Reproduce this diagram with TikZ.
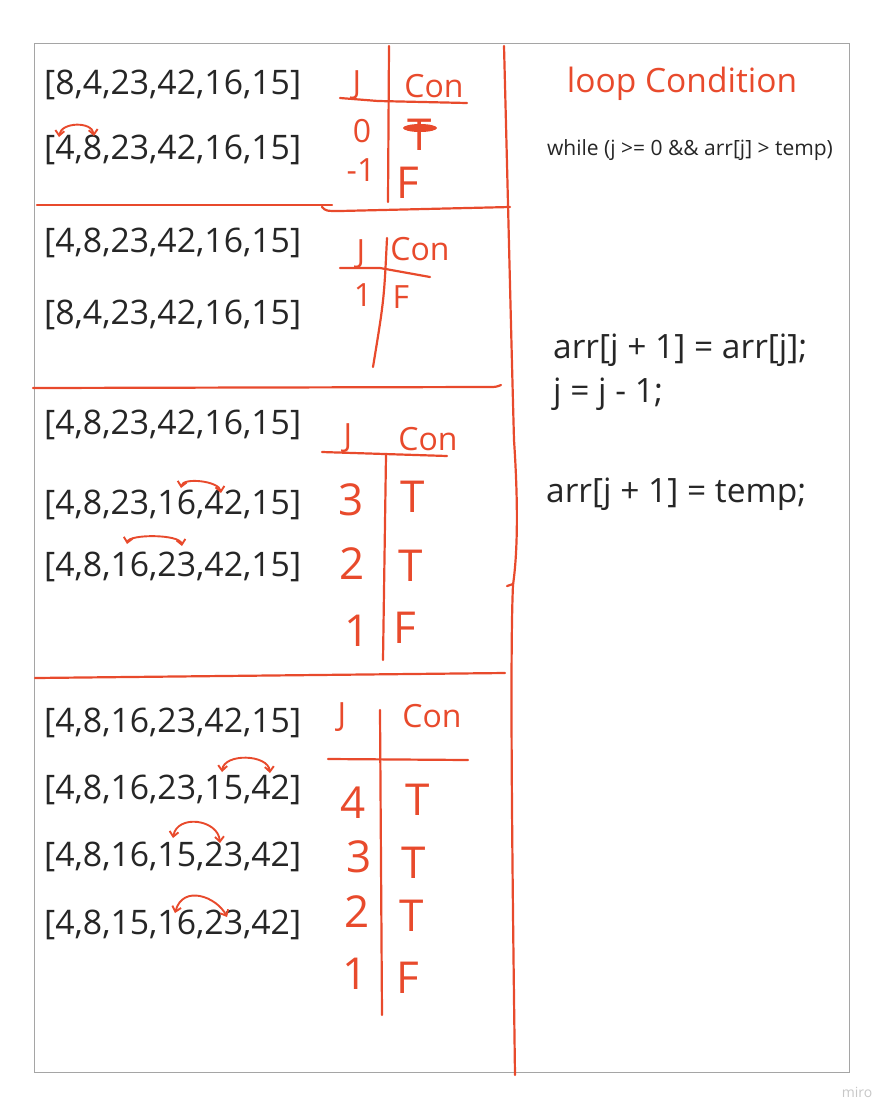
\documentclass[tikz,border=0pt]{standalone}
\usepackage{fontspec}
\setmainfont{Open Sans}
\usetikzlibrary{arrows,arrows.meta,calc,positioning}
\definecolor{ink}{RGB}{232,74,44}
\definecolor{frameg}{RGB}{165,165,165}

\begin{document}
\begin{tikzpicture}[x=1pt,y=-1pt]
\tikzstyle{arr}=[anchor=west, inner sep=0pt, text=black!85, font=\fontsize{33.8}{36}\selectfont]
\tikzstyle{code}=[arr, font=\fontsize{33.5}{36}\selectfont]
\tikzstyle{hand}=[inner sep=0pt, text=ink, font=\fontsize{44}{44}\selectfont]
\tikzstyle{handsm}=[hand, font=\fontsize{32}{32}\selectfont]
\tikzstyle{pen}=[draw=ink, line width=2.2pt, line cap=round, line join=round]
\tikzstyle{swap}=[pen, line width=1.9pt, {Straight Barb[length=5pt,width=9pt]}-{Straight Barb[length=5pt,width=9pt]}]

  \useasboundingbox (0,0) rectangle (894,1117);
  \draw[frameg, line width=1pt] (34,43) rectangle (849,1072);

  % arrays
  \node[arr] (a11) at (44,85)  {[8,4,23,42,16,15]};
  \node[arr] (a12) at (44,150) {[4,8,23,42,16,15]};

  \node[arr] (a21) at (44,243) {[4,8,23,42,16,15]};
  \node[arr] (a22) at (44,315) {[8,4,23,42,16,15]};

  \node[arr] (a31) at (44,425) {[4,8,23,42,16,15]};
  \node[arr] (a32) at (44,505) {[4,8,23,16,42,15]};
  \node[arr] (a33) at (44,567) {[4,8,16,23,42,15]};

  \node[arr] (a41) at (44,723) {[4,8,16,23,42,15]};
  \node[arr] (a42) at (44,790) {[4,8,16,23,15,42]};
  \node[arr] (a43) at (44,857) {[4,8,16,15,23,42]};
  \node[arr] (a44) at (44,925) {[4,8,15,16,23,42]};

  % right column
  \node[inner sep=0pt, text=ink, font=\fontsize{33.5}{36}\selectfont] (title) at (682,84) {loop Condition};
  \node[inner sep=0pt, text=black!85, font=\fontsize{21}{23}\selectfont] (cond) at (690,150) {while (j >= 0 \&\& arr[j] > temp)};
  \node[code] (shift) at (553,350) {arr[j + 1] = arr[j];};
  \node[code] (dec)   at (553,394) {j = j - 1;};
  \node[code] (ins)   at (546,494) {arr[j + 1] = temp;};
  \node[inner sep=0pt, text=black!22, font=\fontsize{14}{16}\selectfont] (miro) at (857,1092) {miro};

  % separators
  \draw[pen] (504,46) .. controls (508,200) and (511,330) .. (514,440)
             .. controls (518,500) and (518,550) .. (513,585)
             .. controls (510,650) and (512,850) .. (515,1075);
  \draw[pen] (507,586) -- (513,584);
  \draw[pen] (37,205) -- (332,205);
  \draw[pen] (322,207) .. controls (326,211) .. (340,211) -- (510,207);
  \draw[pen] (33,388) -- (488,387) .. controls (496,387) .. (501,385);
  \draw[pen] (35,678) -- (505,673);

  % table 1
  \draw[pen] (340,98) -- (378,101) -- (467,103);
  \draw[pen] (389,46) -- (388,202);
  \node[handsm] (j1)   at (357,85)  {J};
  \node[handsm] (con1) at (434,86)  {Con};
  \node[handsm] (j1a)  at (362,131) {0};
  \node[hand]   (c1a)  at (420,135) {T};
  \fill[ink] (420,128) ellipse (17 and 4);
  \node[handsm] (j1b)  at (361,170) {-1};
  \node[hand]   (c1b)  at (408,183) {F};

  % table 2
  \draw[pen] (340,268) -- (380,268) -- (430,277);
  \draw[pen] (387,238) .. controls (384,300) .. (373,367);
  \node[handsm] (j2)   at (361,254) {J};
  \node[handsm] (con2) at (420,249) {Con};
  \node[handsm] (j2a)  at (363,295) {1};
  \node[handsm] (c2a)  at (401,297) {F};

  % table 3
  \draw[pen] (322,452) -- (447,456);
  \draw[pen] (386,455) -- (383,660);
  \node[handsm] (j3)   at (348,438) {J};
  \node[handsm] (con3) at (428,439) {Con};
  \node[hand]   (j3a)  at (351,500) {3};
  \node[hand]   (c3a)  at (413,497) {T};
  \node[hand]   (j3b)  at (352,564) {2};
  \node[hand]   (c3b)  at (411,566) {T};
  \node[hand]   (j3c)  at (357,631) {1};
  \node[hand]   (c3c)  at (405,628) {F};

  % table 4
  \draw[pen] (328,759) -- (468,760);
  \draw[pen] (380,710) -- (382,1015);
  \node[handsm] (j4)   at (342,717) {J};
  \node[handsm] (con4) at (432,716) {Con};
  \node[hand]   (j4a)  at (353,803) {4};
  \node[hand]   (c4a)  at (418,800) {T};
  \node[hand]   (j4b)  at (359,857) {3};
  \node[hand]   (c4b)  at (414,863) {T};
  \node[hand]   (j4c)  at (357,912) {2};
  \node[hand]   (c4c)  at (412,916) {T};
  \node[hand]   (j4d)  at (355,974) {1};
  \node[hand]   (c4d)  at (408,978) {F};

  % swap marks
  \coordinate (s1a) at (59,137);  \coordinate (s1b) at (94,136);
  \coordinate (s2a) at (181,488); \coordinate (s2b) at (221,493);
  \coordinate (s3a) at (127,544); \coordinate (s3b) at (182,546);
  \coordinate (s4a) at (222,772); \coordinate (s4b) at (270,773);
  \coordinate (s5a) at (173,838); \coordinate (s5b) at (220,843);
  \coordinate (s6a) at (175,913); \coordinate (s6b) at (227,917);

  \draw[swap] (s1a) .. controls +(2,-15) and +(-2,-15) .. (s1b);
  \draw[swap] (s2a) .. controls +(2,-11) and +(-2,-12) .. (s2b);
  \draw[swap] (s3a) .. controls +(2,-10) and +(-2,-12) .. (s3b);
  \draw[swap] (s4a) .. controls +(2,-19) and +(-2,-19) .. (s4b);
  \draw[swap] (s5a) .. controls +(4,-24) and +(-2,-24) .. (s5b);
  \draw[swap] (s6a) .. controls +(8,-29) and +(-10,-20) .. (s6b);

\end{tikzpicture}
\end{document}
